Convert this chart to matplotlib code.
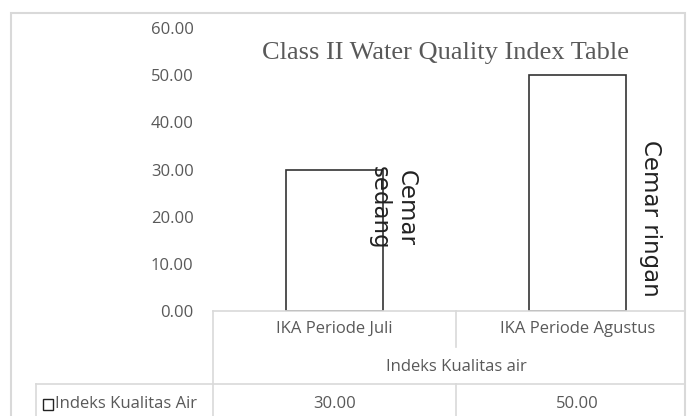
import matplotlib
matplotlib.use("Agg")
import matplotlib.pyplot as plt
from matplotlib.lines import Line2D
from matplotlib.patches import Rectangle
from matplotlib.transforms import blended_transform_factory
import numpy as np

# chart data
categories = ["IKA Periode Juli", "IKA Periode Agustus"]
values = [30.00, 50.00]
status_labels = ["Cemar\nsedang", "Cemar ringan"]
series_name = "Indeks Kualitas Air"
group_label = "Indeks Kualitas air"
title = "Class II Water Quality Index Table"
y_ticks = [0, 10, 20, 30, 40, 50, 60]

W, H = 687, 416
gray_txt = '#595959'
line_col = '#d9d9d9'

fig = plt.figure(figsize=(W / 100, H / 100), dpi=100, facecolor='white')

def fx(px):
    return px / W

def fy(py):
    return 1 - py / H

# axes placed where the plot area sits in the picture
ax = fig.add_axes([fx(213), fy(311), 486 / W, (311 - 28) / H])
ax.set_facecolor('none')

x = np.arange(len(categories))
ax.bar(x, values, width=0.4, color='white', edgecolor='#333333', linewidth=1.2)

ax.set_xlim(-0.5, len(categories) - 0.5)
ax.set_ylim(0, 60)
ax.set_yticks(y_ticks)
ax.set_yticklabels([f"{v:.2f}" for v in y_ticks], family='Open Sans',
                   fontsize=12, color=gray_txt)
ax.set_xticks([])
ax.tick_params(axis='y', length=0, pad=14)
for s in ax.spines.values():
    s.set_visible(False)

# rotated status labels beside each bar
label_dx = [0.24, 0.30]
label_top = [30.8, 36.3]
for i, txt in enumerate(status_labels):
    ax.text(x[i] + label_dx[i], label_top[i], txt, rotation=270,
            ha='center', va='top', fontsize=16.5, color='#222222',
            family='DejaVu Sans', linespacing=1.22)

fig.text(fx(445), fy(53), title, ha='center', va='center',
         family='Liberation Serif', fontsize=19, color=gray_txt)

# outer chart border
fig.add_artist(Rectangle((fx(11), fy(430)), fx(685) - fx(11), fy(13) - fy(430),
                         transform=fig.transFigure, fill=False,
                         edgecolor=line_col, linewidth=1.5))

# data table under the axis
def hline(y, x0, x1):
    fig.add_artist(Line2D([fx(x0), fx(x1)], [fy(y), fy(y)],
                          transform=fig.transFigure, color=line_col, lw=1.2))

def vline(xp, y0, y1):
    fig.add_artist(Line2D([fx(xp), fx(xp)], [fy(y0), fy(y1)],
                          transform=fig.transFigure, color=line_col, lw=1.2))

hline(311, 213, 685)
hline(384, 36, 685)
vline(213, 311, 416)
vline(456, 311, 347)
vline(456, 384, 416)
vline(36, 384, 416)

trans = blended_transform_factory(ax.transData, fig.transFigure)
for i, cat in enumerate(categories):
    fig.text(x[i], fy(329), cat, transform=trans, ha='center', va='center',
             family='Open Sans', fontsize=12, color=gray_txt)
    fig.text(x[i], fy(404), f"{values[i]:.2f}", transform=trans,
             ha='center', va='center', family='Open Sans', fontsize=12,
             color=gray_txt)

fig.text(np.mean(x), fy(367), group_label, transform=trans, ha='center',
         va='center', family='Open Sans', fontsize=12, color=gray_txt)

# legend key and series name
fig.add_artist(Rectangle((fx(43), fy(410)), 10 / W, 11 / H,
                         transform=fig.transFigure, fill=False,
                         edgecolor='#222222', linewidth=1.0))
fig.text(fx(55), fy(404), series_name, ha='left', va='center',
         family='Open Sans', fontsize=12, color=gray_txt)

fig.savefig("out.png", dpi=100, facecolor='white')
